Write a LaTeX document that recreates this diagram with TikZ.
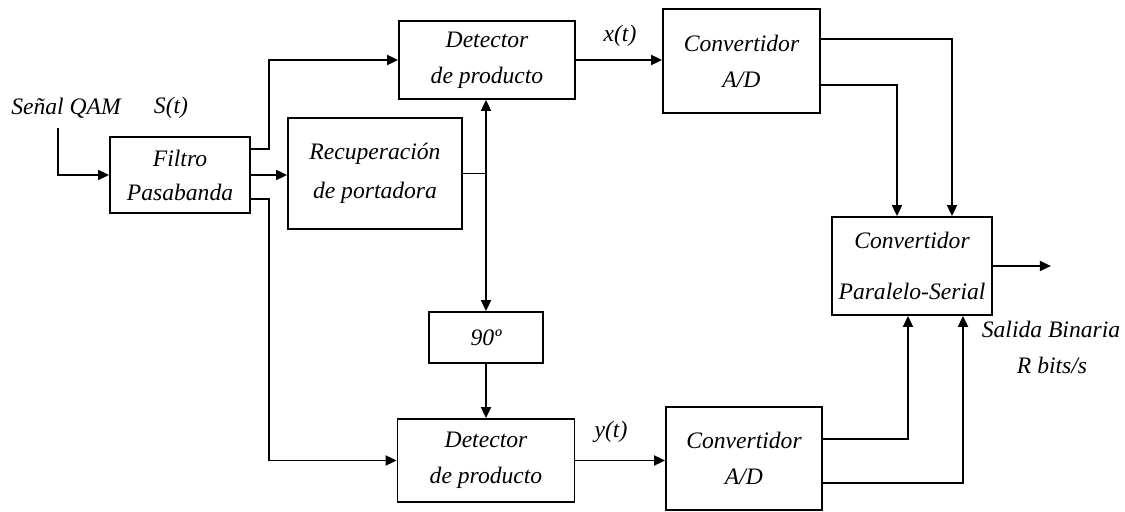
\documentclass[tikz,border=0pt]{standalone}
\usepackage{fontspec}
\setmainfont{Liberation Serif}
\usetikzlibrary{arrows.meta,calc}
\begin{document}
\begin{tikzpicture}[x=0.5pt,y=-0.5pt,
  box/.style={draw,line width=0.9pt,inner sep=0pt,align=center,
    font=\itshape\fontsize{11.8}{18}\selectfont},
  lbl/.style={inner sep=0pt,font=\itshape\fontsize{11.8}{14}\selectfont},
  wire/.style={line width=0.9pt},
  arr/.style={wire,-{Triangle[length=5.5pt,width=5pt]}}]
\useasboundingbox (0,0) rectangle (1125,512);
% blocks
\node[box,minimum width=70pt,minimum height=38pt] (filt) at (180,175) {Filtro\\[-1pt]Pasabanda};
\node[box,minimum width=87pt,minimum height=55.5pt] (rec) at (375,173.5) {Recuperación\\[1.5pt]de portadora};
\node[box,minimum width=88pt,minimum height=39pt] (det1) at (487,60) {Detector\\de producto};
\node[box,minimum width=57pt,minimum height=25.5pt] (ph) at (486,337.5) {90º};
\node[box,minimum width=88.5pt,minimum height=41.5pt] (det2) at (486,460.5) {Detector\\de producto};
\node[box,minimum width=78.5pt,minimum height=52pt] (ad1) at (741.5,61) {Convertidor\\A/D};
\node[box,minimum width=78pt,minimum height=51.5pt] (ad2) at (744,458.5) {Convertidor\\A/D};
\node[box,minimum width=80pt,minimum height=49pt] (ps) at (912,266) {Convertidor\\[7.5pt]Paralelo-Serial};
% labels
\node[lbl] (lq) at (66,108) {Señal QAM};
\node[lbl] (ls) at (171,108) {S(t)};
\node[lbl] (lx) at (620,36) {x(t)};
\node[lbl] (ly) at (611,432) {y(t)};
\node[lbl] (lsal) at (1051,329) {Salida Binaria};
\node[lbl] (lr) at (1052,365) {R bits/s};
% connectors
\coordinate (in) at (58,128);
\draw[arr] (in) |- (filt.west);
\draw[arr] ($(filt.east)+(0,-26)$) -- ++(18,0) |- (det1.west);
\draw[arr] (filt.east) -- (filt.east -| rec.west);
\draw[arr] ($(filt.east)+(0,24)$) -- ++(18,0) |- (det2.west);
\coordinate (j) at (rec.east -| ph.north);
\draw[wire] (rec.east) -- (j);
\draw[arr] (j) -- (j |- det1.south);
\draw[arr] (j) -- (ph.north);
\draw[arr] (ph.south) -- (ph.south |- det2.north);
\draw[arr] (det1.east) -- (det1.east -| ad1.west);
\draw[arr] (det2.east) -- (det2.east -| ad2.west);
\draw[arr] ($(ad1.east)+(0,-22)$) -| ($(ps.north)+(40,0)$);
\draw[arr] ($(ad1.east)+(0,24)$) -| ($(ps.north)+(-15,0)$);
\draw[arr] ($(ad2.east)+(0,-19.5)$) -| ($(ps.south)+(-4,0)$);
\draw[arr] ($(ad2.east)+(0,24.5)$) -| ($(ps.south)+(51,0)$);
\coordinate (out) at ($(ps.east)+(58,0)$);
\draw[arr] (ps.east) -- (out);
\end{tikzpicture}
\end{document}
